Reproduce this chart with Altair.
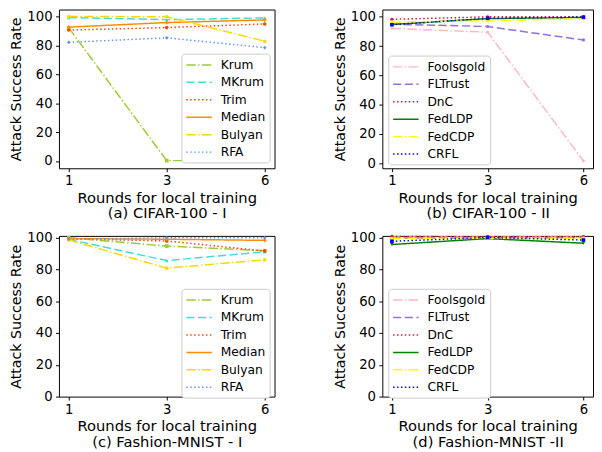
import altair as alt
import pandas as pd

rounds = ["1", "3", "6"]
y_ticks = [0, 20, 40, 60, 80, 100]

group1 = ["Krum", "MKrum", "Trim", "Median", "Bulyan", "RFA"]
group2 = ["Foolsgold", "FLTrust", "DnC", "FedLDP", "FedCDP", "CRFL"]

# (a) CIFAR-100 - I
a_krum = [92.3, 0.3, 0.3]
a_mkrum = [99.4, 98.0, 99.2]
a_trim = [90.8, 92.5, 95.0]
a_median = [92.8, 96.0, 97.8]
a_bulyan = [100.2, 100.0, 83.0]
a_rfa = [82.3, 85.4, 78.6]

# (b) CIFAR-100 - II
b_foolsgold = [92.1, 89.5, 1.5]
b_fltrust = [95.0, 93.4, 84.2]
b_dnc = [98.3, 100.0, 100.0]
b_fedldp = [94.8, 98.8, 99.6]
b_fedcdp = [96.4, 97.4, 98.7]
b_crfl = [94.6, 99.0, 99.8]

# (c) Fashion-MNIST - I
c_krum = [99.8, 94.6, 91.7]
c_mkrum = [98.8, 85.5, 91.0]
c_trim = [99.2, 97.8, 91.5]
c_median = [99.3, 98.9, 98.2]
c_bulyan = [98.5, 80.7, 86.0]
c_rfa = [98.9, 99.8, 99.8]

# (d) Fashion-MNIST -II
d_foolsgold = [100.3, 100.3, 100.3]
d_fltrust = [99.6, 99.8, 99.8]
d_dnc = [100.6, 100.5, 100.5]
d_fedldp = [95.6, 99.3, 96.4]
d_fedcdp = [99.3, 99.5, 99.5]
d_crfl = [97.6, 100.0, 98.4]

colors1 = ["#9acd32", "#40e0d0", "#ff4500", "#ff8c00", "#ffd700", "#6495ed"]
colors2 = ["#ffb6c1", "#9370db", "#dc143c", "#008000", "#ffff00", "#0000ff"]

DASHDOT = [9.6, 2.4, 1.5, 2.4]
DASHED = [8.3, 3.6]
DOTTED = [1.5, 2.5]
SOLID = [1, 0]
dashes1 = [DASHDOT, DASHED, DOTTED, SOLID, DASHDOT, DOTTED]
dashes2 = [DASHDOT, DASHED, DOTTED, SOLID, DASHDOT, DOTTED]

shapes1 = ["square", "triangle-up", "circle", "cross", "circle", "diamond"]
sizes1 = [14, 14, 16, 10, 8, 22]
shapes2 = ["cross", "circle", "circle", "triangle-down", "circle", "square"]
sizes2 = [10, 14, 0, 20, 0, 26]

FONT = "DejaVu Sans"


def panel(values, names, colors, dashes, shapes, sizes, ydomain, subtitle,
          lx, ly, w, h):
    rows = []
    for m, vals in zip(names, values):
        for r, v in zip(rounds, vals):
            rows.append({"round": r, "method": m, "mk": m, "asr": v})
    df = pd.DataFrame(rows)
    x = alt.X("round:O", sort=rounds,
              scale=alt.Scale(type="point", padding=0.1),
              axis=alt.Axis(title=["Rounds for local training", subtitle],
                            labelAngle=0, labelPadding=2.5, titlePadding=3,
                            titleLineHeight=16, titleFontSize=15))
    y = alt.Y("asr:Q",
              scale=alt.Scale(domain=ydomain, nice=False, zero=False),
              axis=alt.Axis(title="Attack Success Rate", values=y_ticks,
                            labelPadding=3.5, titlePadding=3))
    leg = alt.Legend(orient="none", legendX=lx, legendY=ly, title=None,
                     symbolType="M-2,0H2", symbolSize=169,
                     symbolOffset=6.5, symbolStrokeWidth=1.5,
                     labelFont=FONT, labelFontSize=12.5, labelColor="black",
                     fillColor="white", strokeColor="#cccccc",
                     cornerRadius=3, padding=4, rowPadding=3.8,
                     labelOffset=14.5)
    color = alt.Color("method:N", sort=names,
                      scale=alt.Scale(domain=names, range=colors), legend=leg)
    dash = alt.StrokeDash("method:N", sort=names,
                          scale=alt.Scale(domain=names, range=dashes),
                          legend=leg)
    lines = alt.Chart(df).mark_line(strokeWidth=1.5).encode(
        x=x, y=y, color=color, strokeDash=dash)
    pts = alt.Chart(df).mark_point(filled=True, opacity=1).encode(
        x=x, y=y,
        color=alt.Color("mk:N", sort=names,
                        scale=alt.Scale(domain=names, range=colors),
                        legend=None),
        shape=alt.Shape("mk:N", sort=names,
                        scale=alt.Scale(domain=names, range=shapes),
                        legend=None),
        size=alt.Size("mk:N", sort=names,
                      scale=alt.Scale(domain=names, range=sizes),
                      legend=None))
    return alt.layer(lines, pts).resolve_scale(
        color="independent", strokeDash="independent",
        shape="independent", size="independent").resolve_legend(
        color="independent", strokeDash="independent").properties(
        width=w, height=h)


pa = panel([a_krum, a_mkrum, a_trim, a_median, a_bulyan, a_rfa], group1,
           colors1, dashes1, shapes1, sizes1, [-5, 105],
           "(a) CIFAR-100 - I", 125, 45, 220, 162)
pb = panel([b_foolsgold, b_fltrust, b_dnc, b_fedldp, b_fedcdp, b_crfl], group2,
           colors2, dashes2, shapes2, sizes2, [-3.5, 105],
           "(b) CIFAR-100 - II", 6, 47, 215, 162)
pc = panel([c_krum, c_mkrum, c_trim, c_median, c_bulyan, c_rfa], group1,
           colors1, dashes1, shapes1, sizes1, [0, 101],
           "(c) Fashion-MNIST - I", 125, 54, 220, 164)
pd_ = panel([d_foolsgold, d_fltrust, d_dnc, d_fedldp, d_fedcdp, d_crfl], group2,
            colors2, dashes2, shapes2, sizes2, [0, 101],
            "(d) Fashion-MNIST -II", 6, 54, 215, 164)

res = dict(color="independent", strokeDash="independent",
           shape="independent", size="independent")

top = alt.hconcat(pa, pb, spacing=57).resolve_scale(**res).resolve_legend(
    color="independent", strokeDash="independent")
bottom = alt.hconcat(pc, pd_, spacing=57).resolve_scale(**res).resolve_legend(
    color="independent", strokeDash="independent")

chart = alt.vconcat(top, bottom, spacing=9).resolve_scale(**res).resolve_legend(
    color="independent", strokeDash="independent"
).properties(
    padding={"left": 0, "top": -4, "right": 0, "bottom": 0}
).configure_view(
    stroke="black", strokeWidth=1
).configure_axis(
    domain=False, grid=False, tickColor="black", tickSize=3.5, tickWidth=1,
    labelFont=FONT, labelFontSize=13.5, labelColor="black",
    titleFont=FONT, titleFontSize=14.5, titleFontWeight="normal",
    titleColor="black"
)

chart.save("out.html", embed_options={"renderer": "svg", "actions": False})
